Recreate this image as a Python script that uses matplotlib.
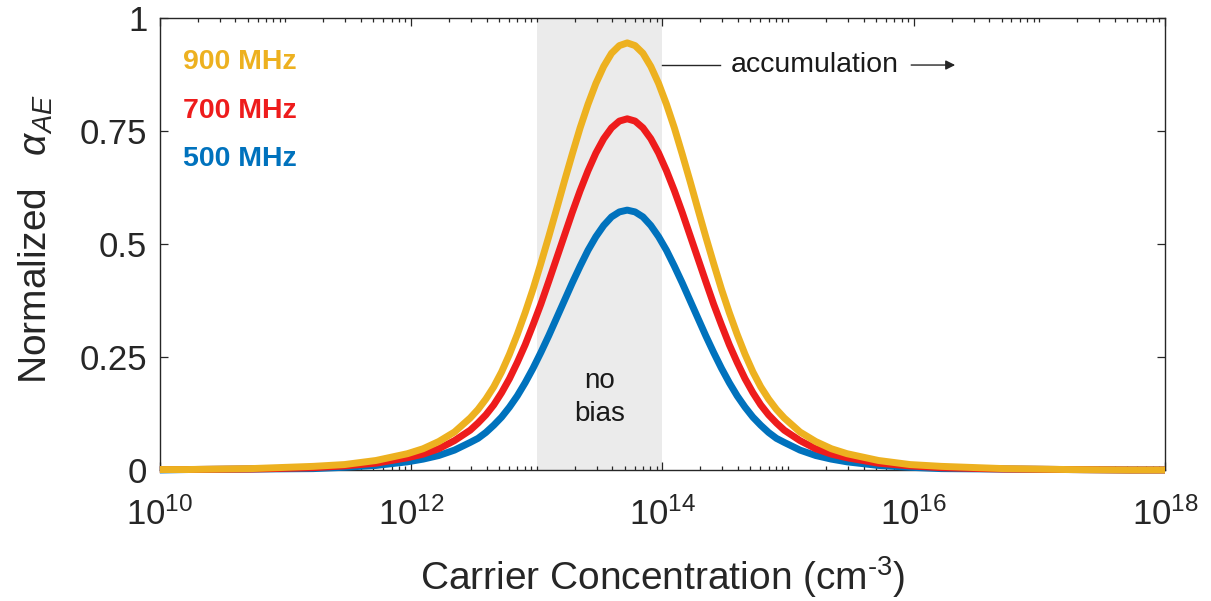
import numpy as np
import matplotlib
matplotlib.use("Agg")
import matplotlib.pyplot as plt
from matplotlib.ticker import FixedLocator, LogLocator, NullFormatter, FixedFormatter

plt.rcParams['font.family'] = ['Liberation Sans', 'DejaVu Sans']
plt.rcParams['mathtext.fontset'] = 'custom'
plt.rcParams['mathtext.rm'] = 'Liberation Sans'
plt.rcParams['mathtext.it'] = 'Liberation Sans:italic'
plt.rcParams['mathtext.bf'] = 'Liberation Sans:bold'

# carrier concentration, as log10(n / cm^-3)
log_n = [10.0, 10.22, 10.72, 11.22, 11.47, 11.72, 11.97, 12.095, 12.22, 12.345,
         12.47, 12.5325, 12.595, 12.6575, 12.72, 12.7825, 12.845, 12.9075, 12.97, 13.0325,
         13.095, 13.1575, 13.22, 13.2825, 13.345, 13.4075, 13.47, 13.5325, 13.595, 13.6575,
         13.72,
         13.7825, 13.845, 13.9075, 13.97, 14.0325, 14.095, 14.1575, 14.22, 14.2825, 14.345,
         14.4075, 14.47, 14.5325, 14.595, 14.6575, 14.72, 14.7825, 14.845, 14.9075, 14.97,
         15.095, 15.22, 15.345, 15.47, 15.72, 15.97, 16.22, 16.72, 17.22, 17.72, 18.0]

# normalized acoustoelectric attenuation
alpha_900 = [0.001, 0.001, 0.003, 0.008, 0.012, 0.021, 0.036, 0.047, 0.063, 0.084,
             0.115, 0.134, 0.157, 0.184, 0.217, 0.256, 0.300, 0.348, 0.400, 0.457,
             0.516, 0.577, 0.639, 0.699, 0.757, 0.809, 0.855, 0.893, 0.922, 0.939,
             0.945,
             0.939, 0.922, 0.893, 0.855, 0.809, 0.757, 0.699, 0.639, 0.577, 0.516,
             0.457, 0.400, 0.348, 0.300, 0.256, 0.217, 0.184, 0.157, 0.134, 0.115,
             0.084, 0.063, 0.047, 0.036, 0.021, 0.012, 0.008, 0.003, 0.001, 0.000, 0.000]
alpha_700 = [0.001, 0.001, 0.002, 0.005, 0.009, 0.015, 0.027, 0.035, 0.047, 0.065,
             0.088, 0.104, 0.122, 0.144, 0.171, 0.202, 0.238, 0.277, 0.321, 0.367,
             0.417, 0.468, 0.519, 0.570, 0.618, 0.662, 0.701, 0.733, 0.757, 0.772,
             0.777,
             0.772, 0.757, 0.733, 0.701, 0.662, 0.618, 0.570, 0.519, 0.468, 0.417,
             0.367, 0.321, 0.277, 0.238, 0.202, 0.171, 0.144, 0.122, 0.104, 0.088,
             0.065, 0.047, 0.035, 0.027, 0.015, 0.009, 0.005, 0.002, 0.001, 0.000, 0.000]
alpha_500 = [0.000, 0.001, 0.002, 0.003, 0.006, 0.010, 0.018, 0.024, 0.032, 0.044,
             0.061, 0.070, 0.083, 0.099, 0.117, 0.139, 0.164, 0.193, 0.225, 0.260,
             0.297, 0.336, 0.375, 0.414, 0.451, 0.486, 0.516, 0.541, 0.560, 0.571,
             0.575,
             0.571, 0.560, 0.541, 0.516, 0.486, 0.451, 0.414, 0.375, 0.336, 0.297,
             0.260, 0.225, 0.193, 0.164, 0.139, 0.117, 0.099, 0.083, 0.070, 0.061,
             0.044, 0.032, 0.024, 0.018, 0.010, 0.006, 0.003, 0.002, 0.001, 0.000, 0.000]

freq_labels = ['900 MHz', '700 MHz', '500 MHz']
colors = ['#EDB120', '#EE1C1C', '#0072BD']

x_ticks = [1e10, 1e12, 1e14, 1e16, 1e18]
y_ticks = [0, 0.25, 0.5, 0.75, 1]
y_ticklabels = ['0', '0.25', '0.5', '0.75', '1']

no_bias_range = (1e13, 1e14)

n = 10.0 ** np.array(log_n)

fig = plt.figure(figsize=(12.11, 6.01), dpi=100)
ax = fig.add_axes([0.132, 0.218, 0.830, 0.752])

# unbiased region
ax.axvspan(no_bias_range[0], no_bias_range[1], color='#EBEBEB', zorder=0, lw=0)

# draw 500 first so the 900 MHz curve sits on top along the baseline
for y, c in zip([alpha_500, alpha_700, alpha_900], colors[::-1]):
    ax.plot(n, y, color=c, lw=5, solid_capstyle='butt', solid_joinstyle='round',
            clip_on=False, zorder=3)

ax.set_xscale('log')
ax.set_xlim(1e10, 1e18)
ax.set_ylim(0, 1)

ax.xaxis.set_major_locator(FixedLocator(x_ticks))
ax.xaxis.set_minor_locator(LogLocator(base=10, subs=np.arange(1, 10), numticks=100))
ax.xaxis.set_minor_formatter(NullFormatter())
ax.yaxis.set_major_locator(FixedLocator(y_ticks))
ax.yaxis.set_major_formatter(FixedFormatter(y_ticklabels))

dark = '#262626'
ax.tick_params(which='both', direction='in', top=True, right=True,
               colors=dark, width=0.9)
ax.tick_params(which='major', length=6, labelsize=25)
ax.tick_params(which='minor', length=3)
ax.tick_params(axis='y', pad=9)
ax.tick_params(axis='x', pad=20)
for s in ax.spines.values():
    s.set_color(dark)
    s.set_linewidth(1.0)

ax.set_xlabel('Carrier Concentration (cm$^{\u20103}$)', fontsize=28, color=dark)
ax.xaxis.set_label_coords(0.5, -0.186)
ax.set_ylabel(r'Normalized   $\alpha_{AE}$', fontsize=28, color=dark)
ax.yaxis.set_label_coords(-0.104, 0.51)

# frequency labels
for lab, c, yy in zip(freq_labels, colors, [0.903, 0.794, 0.688]):
    ax.text(0.023, yy, lab, transform=ax.transAxes, color=c, fontsize=20.5,
            fontweight='bold', ha='left', va='center')

ax.text(10 ** 13.5, 0.16, 'no\nbias', fontsize=20, color='#1a1a1a',
        ha='center', va='center', linespacing=1.35)

# accumulation marker
acc_y = 0.896
ax.plot([1e14, 10 ** 14.46], [acc_y, acc_y], color=dark, lw=1.0)
ax.text(10 ** 14.54, acc_y, 'accumulation', fontsize=20.5, color='#1a1a1a',
        ha='left', va='center')
ax.annotate('', xy=(10 ** 16.33, acc_y), xytext=(10 ** 15.98, acc_y),
            arrowprops=dict(arrowstyle='-|>', color=dark, lw=1.0,
                            mutation_scale=14, shrinkA=0, shrinkB=0))

fig.savefig('out.png', dpi=100)
